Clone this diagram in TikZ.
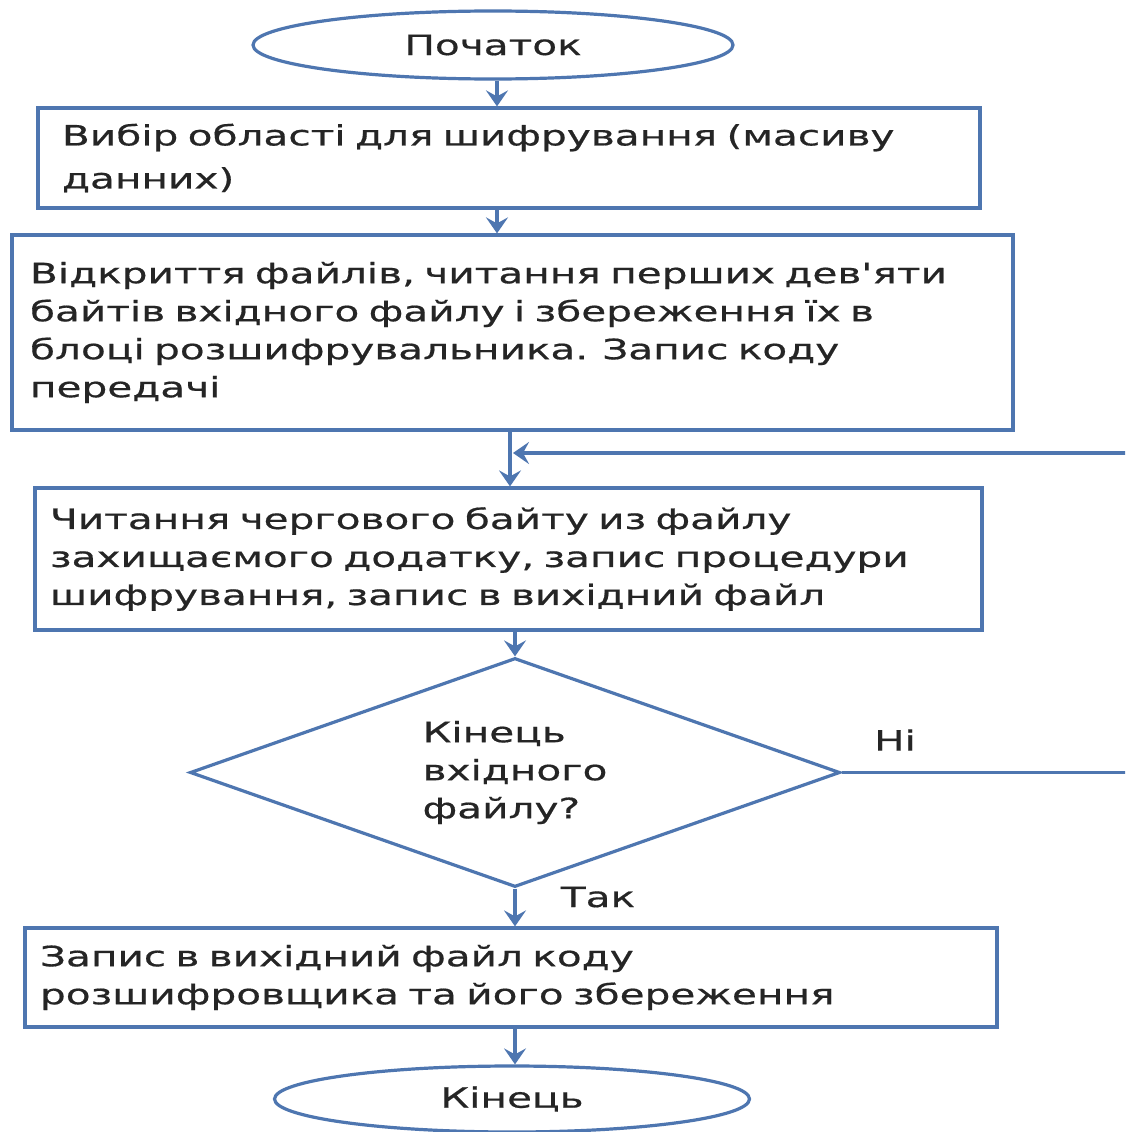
\documentclass[tikz,border=0pt]{standalone}
\usepackage{fontspec}
\setmainfont{DejaVu Sans}[FakeStretch=1.45, FakeBold=0.6, Ligatures=TeXOff]
\usetikzlibrary{shapes.geometric,arrows.meta}

\definecolor{flowline}{HTML}{4E76B0}
\definecolor{flowtext}{HTML}{252525}

\tikzset{
  txt/.style={font=\fontsize{28}{38}\selectfont, text=flowtext},
  terminal/.style={ellipse, draw=flowline, line width=3.2pt, inner sep=0pt,
    minimum width=480pt, minimum height=68pt, txt},
  stepbox/.style={rectangle, draw=flowline, line width=3.2pt, align=left,
    inner ysep=0pt, txt},
  decision/.style={diamond, draw=flowline, line width=3.2pt, inner sep=0pt,
    aspect=2.84, minimum width=650pt, minimum height=229pt, align=left, txt},
  flow/.style={draw=flowline, line width=3.8pt,
    -{Stealth[length=16pt,width=22pt,inset=6pt]}},
  edgelabel/.style={txt}
}

\begin{document}
\begin{tikzpicture}[x=1pt,y=-1pt]
  \clip (0,0) rectangle (1125,1132);
  \fill[white] (0,0) rectangle (1125,1132);

  % terminals, process boxes and decision
  \node[terminal] (start) at (493,45) {Початок};

  \node[stepbox, inner xsep=24pt, text width=894pt, minimum height=100pt,
        font=\fontsize{28}{43}\selectfont]
    (b1) at (509,158) {Вибір області для шифрування (масиву\\данних)};

  \node[stepbox, inner xsep=18pt, text width=965pt, minimum height=195pt]
    (b2) at (512.5,332.5)
    {Відкриття файлів, читання перших дев'яти\\байтів вхідного файлу і збереження їх в\\блоці розшифрувальника. Запис коду\\передачі\\[14pt]};

  \node[stepbox, inner xsep=15pt, text width=917pt, minimum height=142pt]
    (b3) at (508.5,559)
    {Читання чергового байту из файлу\\захищаємого додатку, запис процедури\\шифрування, запис в вихідний файл};

  \node[decision] (dec) at (515,772.5) {Кінець\\вхідного\\файлу?};

  \node[stepbox, inner xsep=15pt, text width=942pt, minimum height=99pt]
    (b4) at (511,977.5)
    {Запис в вихідний файл коду\\розшифровщика та його збереження};

  \node[terminal, minimum width=475pt, minimum height=66pt] (stop) at (512,1099) {Кінець};

  % branch labels
  \node[edgelabel] (no) at (895,740) {Ні};
  \node[edgelabel] (yes) at (598,897) {Так};

  % connectors
  \coordinate (colA) at (497,0);
  \coordinate (colB) at (510,0);
  \coordinate (colC) at (515,0);
  \coordinate (loopR) at (1140,0);

  \draw[flow] (start.south -| colA) -- (b1.north -| colA);
  \draw[flow] (b1.south -| colA) -- (b2.north -| colA);
  \draw[flow] (b2.south -| colB) -- (b3.north -| colB);
  \draw[flow] (b3.south -| colC) -- (dec.north);
  \draw[flow] (dec.south) -- (b4.north -| colC);
  \draw[flow] (b4.south -| colC) -- (stop.north -| colC);

  % loop back when the input file is not finished
  \coordinate (loopIn) at (513,453);
  \draw[flow] (dec.east) -- (dec.east -| loopR) -- (loopR |- loopIn) -- (loopIn);
\end{tikzpicture}
\end{document}
